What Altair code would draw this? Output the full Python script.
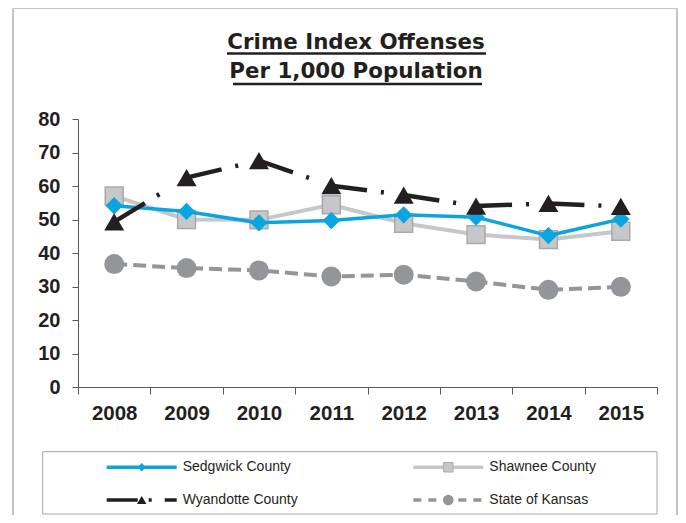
import altair as alt
import pandas as pd

years = ["2008", "2009", "2010", "2011", "2012", "2013", "2014", "2015"]
sedgwick = [54.1, 52.4, 49.0, 49.7, 51.4, 50.7, 45.2, 50.1]
shawnee = [57.0, 50.0, 49.9, 54.4, 48.9, 45.5, 44.0, 46.5]
wyandotte = [49.3, 62.5, 67.6, 60.1, 57.3, 54.0, 54.8, 53.9]
kansas = [36.7, 35.5, 34.8, 33.0, 33.5, 31.5, 29.0, 29.9]
series_names = ["Sedgwick County", "Shawnee County", "Wyandotte County", "State of Kansas"]
title_lines = ["Crime Index Offenses", "Per 1,000 Population"]
y_ticks = [0, 10, 20, 30, 40, 50, 60, 70, 80]

TXT = "#231f20"
AX = "#595959"
BLUE = "#0aa5df"
LGRAY = "#c6c7c9"
SQSTROKE = "#a7a9ac"
BLACK = "#231f20"
DGRAY = "#939598"


def frame(vals):
    return pd.DataFrame({"year": years, "value": vals})


def one(**kw):
    return pd.DataFrame({k: [v] for k, v in kw.items()} or {"a": [0]})


X = alt.X(
    "year:O",
    sort=years,
    scale=alt.Scale(type="band", paddingInner=0, paddingOuter=0),
    axis=alt.Axis(
        title=None, labelAngle=0, labelFont="Liberation Sans", labelFontWeight="bold",
        labelFontSize=20.5, labelColor=TXT, domainColor=AX, tickColor=AX,
        tickSize=7, labelPadding=9, tickBand="extent", grid=False,
    ),
)
Y = alt.Y(
    "value:Q",
    scale=alt.Scale(domain=[0, 80], nice=False),
    axis=alt.Axis(
        title=None, values=y_ticks, labelFont="Liberation Sans", labelFontWeight="bold",
        labelFontSize=20, labelColor=TXT, domainColor=AX, tickColor=AX,
        tickSize=6, labelPadding=12, grid=False,
    ),
)

layers = []

# State of Kansas
kdf = frame(kansas)
layers.append(alt.Chart(kdf).mark_line(color=DGRAY, strokeWidth=4, strokeDash=[13, 6]).encode(x=X, y=Y))
layers.append(alt.Chart(kdf).mark_point(shape="circle", filled=True, size=400, color=DGRAY, opacity=1).encode(x=X, y=Y))

# Shawnee
shdf = frame(shawnee)
layers.append(alt.Chart(shdf).mark_line(color=LGRAY, strokeWidth=4).encode(x=X, y=Y))
layers.append(alt.Chart(shdf).mark_point(shape="square", filled=True, size=320, fill=LGRAY, stroke=SQSTROKE,
                                         strokeWidth=1.5, opacity=1).encode(x=X, y=Y))

# Sedgwick
sdf = frame(sedgwick)
layers.append(alt.Chart(sdf).mark_line(color=BLUE, strokeWidth=3.5).encode(x=X, y=Y))
layers.append(alt.Chart(sdf).mark_point(shape="diamond", filled=True, size=300, color=BLUE, opacity=1).encode(x=X, y=Y))

# Wyandotte: dash pattern restarts on every segment
rows = []
for i in range(len(years) - 1):
    rows.append({"year": years[i], "value": wyandotte[i], "seg": i})
    rows.append({"year": years[i + 1], "value": wyandotte[i + 1], "seg": i})
wseg = pd.DataFrame(rows)
layers.append(alt.Chart(wseg).mark_line(color=BLACK, strokeWidth=4.5, strokeDash=[36, 14, 3, 40]).encode(
    x=X, y=Y, detail="seg:N"))
layers.append(alt.Chart(frame(wyandotte)).mark_point(shape="triangle-up", filled=True, size=400, color=BLACK,
                                                      opacity=1).encode(x=X, y=Y))

# Outer frame
layers.append(alt.Chart(one()).mark_rule(color="#c4c4c4", strokeWidth=2).encode(
    x=alt.value(-65), y=alt.value(-110.5), y2=alt.value(396)))
layers.append(alt.Chart(one()).mark_rule(color="#c4c4c4", strokeWidth=1).encode(
    x=alt.value(-65), x2=alt.value(599), y=alt.value(-110.5)))
layers.append(alt.Chart(one()).mark_rule(color="#c4c4c4", strokeWidth=2).encode(
    x=alt.value(599), y=alt.value(-110.5), y2=alt.value(396)))

# Title
title_y = [-70, -41]
ul = [(149, 408, -65.5), (155, 404, -35)]
for i, line in enumerate(title_lines):
    layers.append(alt.Chart(one(t=line)).mark_text(
        font="DejaVu Sans", fontWeight="bold", fontSize=21.4, color=TXT, align="center", baseline="alphabetic"
    ).encode(text="t:N", x=alt.value(278), y=alt.value(title_y[i])))
    layers.append(alt.Chart(one()).mark_rule(color=TXT, strokeWidth=2.5).encode(
        x=alt.value(ul[i][0]), x2=alt.value(ul[i][1]), y=alt.value(ul[i][2])))

# Legend box
layers.append(alt.Chart(one()).mark_rect(fillOpacity=0, stroke="#a6a6a6", strokeWidth=1).encode(
    x=alt.value(-35.3), x2=alt.value(579), y=alt.value(332.7), y2=alt.value(395)))

leg_pos = {
    "Sedgwick County": (28.7, 348.3),
    "Shawnee County": (335.3, 348.3),
    "Wyandotte County": (28.7, 381),
    "State of Kansas": (335.3, 381),
}
leg_style = {
    "Sedgwick County": dict(line=dict(color=BLUE, strokeWidth=3.5),
                            pt=dict(shape="diamond", size=70, color=BLUE)),
    "Shawnee County": dict(line=dict(color=LGRAY, strokeWidth=3.5),
                           pt=dict(shape="square", size=90, fill=LGRAY, stroke=SQSTROKE, strokeWidth=1)),
    "Wyandotte County": dict(line=dict(color=BLACK, strokeWidth=3.5, strokeDash=[31, 11, 3, 13, 12]),
                             pt=dict(shape="triangle-up", size=90, color=BLACK)),
    "State of Kansas": dict(line=dict(color=DGRAY, strokeWidth=3.5, strokeDash=[8, 7]),
                            pt=dict(shape="circle", size=110, color=DGRAY)),
}
for name in series_names:
    x0, yy = leg_pos[name]
    st = leg_style[name]
    layers.append(alt.Chart(one()).mark_rule(**st["line"]).encode(
        x=alt.value(x0), x2=alt.value(x0 + 70), y=alt.value(yy)))
    layers.append(alt.Chart(one()).mark_point(filled=True, opacity=1, **st["pt"]).encode(
        x=alt.value(x0 + 35), y=alt.value(yy)))
    layers.append(alt.Chart(one(t=name)).mark_text(
        font="Liberation Sans", fontSize=14, color=TXT, align="left", baseline="middle"
    ).encode(text="t:N", x=alt.value(x0 + 76), y=alt.value(yy)))

chart = alt.layer(*layers).properties(
    width=579, height=268,
    autosize=alt.AutoSizeParams(type="none"),
    padding={"left": 70, "top": 111, "right": 21, "bottom": 128},
    background="white",
).configure_view(stroke=None)

chart.save("out.html", embed_options={"renderer": "svg", "actions": False})
